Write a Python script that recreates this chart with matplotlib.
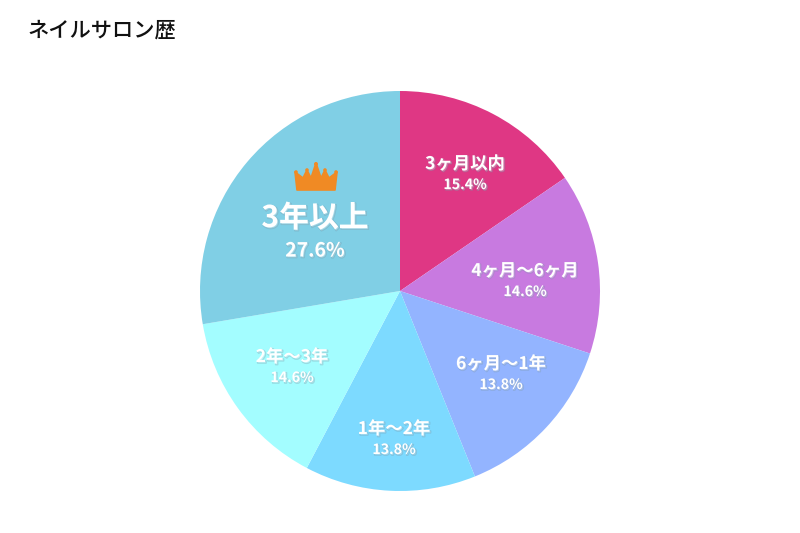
import matplotlib
matplotlib.use('Agg')
import matplotlib.pyplot as plt
import matplotlib.patheffects as pe
from matplotlib.patches import Polygon, Circle

plt.rcParams['font.family'] = ['Noto Sans CJK JP', 'DejaVu Sans']

title = 'ネイルサロン歴'
categories = ['3ヶ月以内', '4ヶ月〜6ヶ月', '6ヶ月〜1年', '1年〜2年', '2年〜3年', '3年以上']
values = [15.4, 14.6, 13.8, 13.8, 14.6, 27.6]
colors = ['#DF3784', '#C87AE0', '#93B4FF', '#7DDAFF', '#A3FDFF', '#80CFE5']
label_pos = [(465, 173), (525, 280), (501, 373), (394, 438), (292, 366), (315, 232)]

W, H = 800, 533


def yy(y):
    return H - y


fig = plt.figure(figsize=(8, 5.33), dpi=100)
ax = fig.add_axes([0, 0, 1, 1])

ax.pie(values, colors=colors, startangle=90, counterclock=False,
       center=(400, yy(291)), radius=200, frame=True)
ax.set_xlim(0, W)
ax.set_ylim(0, H)
ax.set_aspect('equal')
ax.axis('off')

ax.text(28, yy(31), title, fontsize=15.3, fontweight='medium', color='#111111',
        ha='left', va='center')

for cat, val, (x, y) in zip(categories, values, label_pos):
    big = cat == '3年以上'
    txt1 = ax.text(x, yy(y - (14 if big else 9)), cat, color='white', ha='center', va='center',
                   fontsize=21.5 if big else 12.5, fontweight='bold')
    txt2 = ax.text(x, yy(y + (19 if big else 12)), f'{val}%', color='white', ha='center', va='center',
                   fontsize=14 if big else 10.2, fontweight='bold')
    for t in (txt1, txt2):
        t.set_path_effects([pe.Stroke(offset=(0.8, -0.8), linewidth=1, foreground='#6f8fa0', alpha=0.3),
                            pe.Normal()])

# crown icon above the top category
crown = [(297, 190), (295, 172), (303, 178), (307, 170), (311, 178), (316, 163), (321, 178),
         (325, 170), (329, 178), (337, 172), (335, 190)]
ax.add_patch(Polygon([(x, yy(y)) for x, y in crown], closed=True, color='#F08A24', lw=1.2, joinstyle='round'))
for cx, cy, r in [(296, 172, 1.8), (307, 170, 1.8), (316, 164, 2), (325, 170, 1.8), (336, 172, 1.8)]:
    ax.add_patch(Circle((cx, yy(cy)), r, color='#F08A24', lw=0))

fig.savefig('out.png', dpi=100, facecolor='white')
